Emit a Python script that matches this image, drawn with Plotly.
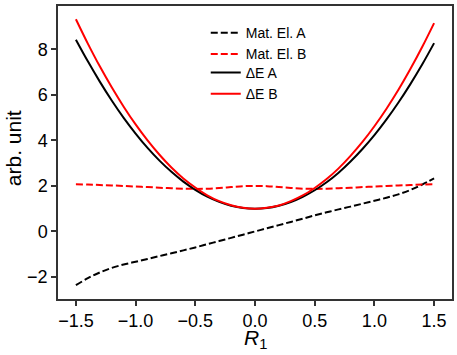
import plotly.graph_objects as go

# coordenada R1
r1 = [-1.5, -1.4, -1.3, -1.2, -1.1, -1.0, -0.9, -0.8, -0.7, -0.6, -0.5,
      -0.4, -0.3, -0.2, -0.1, 0.0, 0.1, 0.2, 0.3, 0.4, 0.5,
      0.6, 0.7, 0.8, 0.9, 1.0, 1.1, 1.2, 1.3, 1.4, 1.5]

mat_el_a = [-2.36, -2.05, -1.80, -1.60, -1.45, -1.33, -1.21, -1.08, -0.96, -0.83, -0.70,
            -0.56, -0.42, -0.28, -0.14, 0.00, 0.14, 0.28, 0.42, 0.56, 0.71,
            0.84, 0.97, 1.09, 1.22, 1.35, 1.48, 1.63, 1.82, 2.06, 2.33]

mat_el_b = [2.07, 2.06, 2.04, 2.02, 2.00, 1.97, 1.95, 1.92, 1.90, 1.88, 1.87,
            1.88, 1.91, 1.95, 1.99, 2.00, 1.99, 1.95, 1.91, 1.88, 1.87,
            1.88, 1.90, 1.92, 1.95, 1.97, 2.00, 2.02, 2.04, 2.06, 2.07]

delta_e_a = [8.42, 7.47, 6.58, 5.75, 4.99, 4.30, 3.67, 3.11, 2.62, 2.19, 1.83,
             1.53, 1.30, 1.13, 1.03, 1.00, 1.03, 1.13, 1.29, 1.52, 1.81,
             2.16, 2.58, 3.07, 3.62, 4.23, 4.91, 5.65, 6.46, 7.33, 8.27]

delta_e_b = [9.32, 8.25, 7.25, 6.33, 5.48, 4.70, 4.00, 3.37, 2.81, 2.33, 1.93,
             1.59, 1.33, 1.15, 1.04, 1.00, 1.04, 1.14, 1.33, 1.58, 1.91,
             2.30, 2.77, 3.32, 3.93, 4.62, 5.38, 6.21, 7.12, 8.10, 9.15]

fonte = "Liberation Sans, Arial, sans-serif"

fig = go.Figure()
fig.add_trace(go.Scatter(x=r1, y=mat_el_a, mode="lines", name="Mat. El. A", legend="legend",
                         line=dict(color="black", width=2, dash="7px,3px", shape="spline")))
fig.add_trace(go.Scatter(x=r1, y=mat_el_b, mode="lines", name="Mat. El. B", legend="legend",
                         line=dict(color="red", width=2, dash="7px,3px", shape="spline")))
fig.add_trace(go.Scatter(x=r1, y=delta_e_a, mode="lines", name="ΔE A", legend="legend2",
                         line=dict(color="black", width=2, shape="spline")))
fig.add_trace(go.Scatter(x=r1, y=delta_e_b, mode="lines", name="ΔE B", legend="legend2",
                         line=dict(color="red", width=2, shape="spline")))

eixo = dict(showgrid=False, zeroline=False, showline=True, linecolor="#333", linewidth=1.5,
            mirror=True, ticks="outside", ticklen=5, tickwidth=1.5, tickcolor="#333",
            tickfont=dict(size=18, color="black"), automargin=False)

leg = dict(x=0.375, xanchor="left", yanchor="top", bgcolor="rgba(0,0,0,0)", font=dict(size=14))

fig.update_layout(
    width=457, height=355,
    margin=dict(l=58, r=5, t=6, b=56),
    plot_bgcolor="white", paper_bgcolor="white",
    font=dict(family=fonte, color="black"),
    legend=dict(leg, y=0.962),
    legend2=dict(leg, y=0.826),
)
fig.update_xaxes(eixo, range=[-1.65, 1.65], tickvals=[-1.5, -1.0, -0.5, 0.0, 0.5, 1.0, 1.5],
                 tickformat=".1f")
fig.update_yaxes(eixo, range=[-2.965, 9.9], tickvals=[-2, 0, 2, 4, 6, 8])

# titulos dos eixos como anotacoes
fig.add_annotation(text="<i>R</i><sub>1</sub>", xref="paper", yref="paper", x=0.5, y=-0.135,
                   showarrow=False, font=dict(size=21), xanchor="center", yanchor="middle")
fig.add_annotation(text="arb. unit", xref="paper", yref="paper", x=-0.114, y=0.515,
                   showarrow=False, font=dict(size=21), textangle=-90,
                   xanchor="center", yanchor="middle")

# tira a margem padrao do body para a figura ocupar a janela toda
fig.write_html("out.html", config={"displayModeBar": False},
               post_script="document.body.style.margin='0px';")
